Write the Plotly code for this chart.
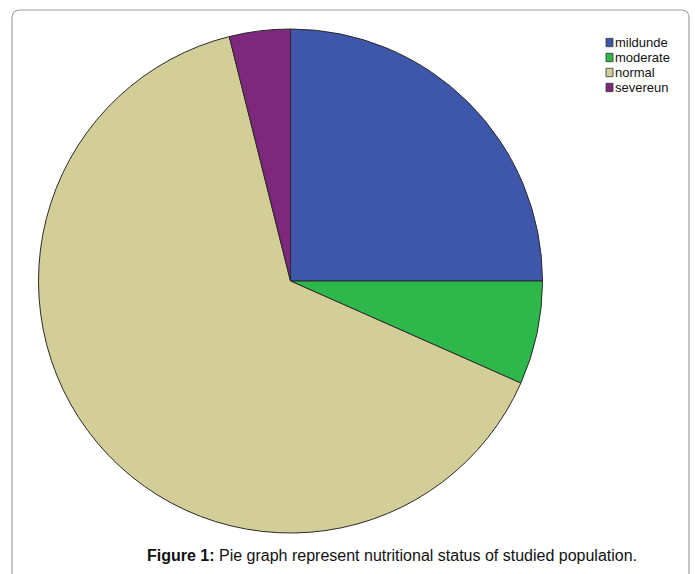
import plotly.graph_objects as go

categories = ["mildunde", "moderate", "normal", "severeun"]
values = [64, 17, 165, 10]
colors = ["#3F57AB", "#2EB84B", "#D3CD98", "#7D287D"]

W, H = 695, 574
cx, cy, r = 290.5, 281, 252

def px(x): return x / W
def py(y): return 1 - y / H

fig = go.Figure(go.Pie(
    labels=categories, values=values, sort=False, direction="clockwise",
    rotation=0, textinfo="none", hoverinfo="label+percent", showlegend=False,
    marker=dict(colors=colors, line=dict(color="#2a2a2a", width=1)),
    domain=dict(x=[px(cx - r), px(cx + r)], y=[py(cy + r), py(cy - r)]),
))

# rounded frame (bottom edge lies outside the picture)
x0, x1, y0, y1, rc = 12, 689, 10, 590, 8
path = (f"M {px(x0+rc)},{py(y0)} L {px(x1-rc)},{py(y0)} Q {px(x1)},{py(y0)} {px(x1)},{py(y0+rc)} "
        f"L {px(x1)},{py(y1-rc)} Q {px(x1)},{py(y1)} {px(x1-rc)},{py(y1)} "
        f"L {px(x0+rc)},{py(y1)} Q {px(x0)},{py(y1)} {px(x0)},{py(y1-rc)} "
        f"L {px(x0)},{py(y0+rc)} Q {px(x0)},{py(y0)} {px(x0+rc)},{py(y0)} Z")
shapes = [dict(type="path", xref="paper", yref="paper", path=path,
               line=dict(color="#a0a0a0", width=1.2))]

annotations = []
# manual legend, built from the category / colour lists
lx, ly0, dy = 606, 42.5, 15
for i, (lab, col) in enumerate(zip(categories, colors)):
    yc = ly0 + i * dy
    shapes.append(dict(type="rect", xref="paper", yref="paper",
                       x0=px(lx), x1=px(lx + 7), y0=py(yc + 4.2), y1=py(yc - 4.2),
                       fillcolor=col, line=dict(color="#333", width=0.8)))
    annotations.append(dict(text=lab, x=px(lx + 6.5), y=py(yc), xref="paper", yref="paper",
                            xanchor="left", yanchor="middle", showarrow=False,
                            font=dict(size=13, color="#111")))

annotations.append(dict(text="<b>Figure 1:</b> Pie graph represent nutritional status of studied population.",
                        x=px(392), y=py(555), xref="paper", yref="paper",
                        xanchor="center", yanchor="middle", showarrow=False,
                        font=dict(size=16, color="#111")))

fig.update_layout(
    width=W, height=H, margin=dict(l=0, r=0, t=0, b=0),
    paper_bgcolor="white", plot_bgcolor="white", showlegend=False,
    font=dict(family="Liberation Sans, Arial, sans-serif", color="#222"),
    shapes=shapes, annotations=annotations,
)

fig.write_html("out.html")
